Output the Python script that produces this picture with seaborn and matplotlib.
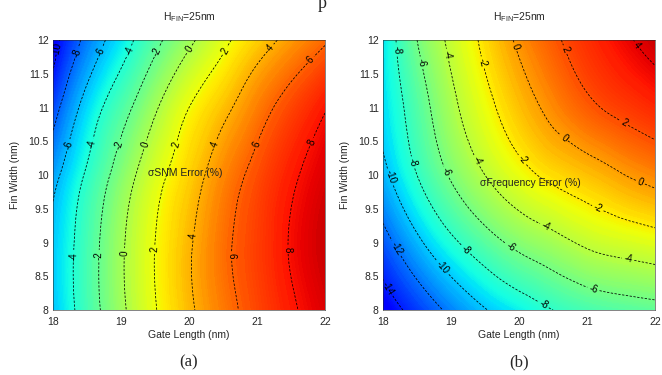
import numpy as np
import matplotlib
matplotlib.use("Agg")
import matplotlib.pyplot as plt
import matplotlib.tri as mtri
from matplotlib.colors import ListedColormap
import seaborn as sns

# values (rows = fin width, columns = gate length)
gate_length = [18, 18.5, 19, 19.5, 20, 20.5, 21, 21.5, 22]
fin_width = [8, 9, 10, 11, 12]

snm_error = [
    [-5.7, -3.05, -0.4, 1.9, 3.7, 5.35, 6.7, 7.8, 8.7],
    [-5.6, -3.0, -0.3, 2.0, 3.8, 5.6, 6.9, 8.1, 9.0],
    [-6.6, -3.75, -1.15, 1.35, 3.15, 5.0, 6.5, 7.75, 8.7],
    [-8.8, -5.25, -2.75, -0.25, 2.0, 3.55, 5.25, 6.7, 7.9],
    [-10.7, -7.45, -4.9, -2.5, -0.4, 1.6, 3.15, 4.55, 5.8],
]
freq_error = [
    [-15.0, -13.3, -11.6, -10.1, -9.05, -8.0, -7.3, -6.9, -6.6],
    [-12.7, -10.4, -8.4, -6.8, -5.5, -4.6, -3.7, -3.2, -2.8],
    [-10.5, -8.0, -5.8, -4.0, -2.6, -1.6, -0.9, -0.1, 0.6],
    [-9.5, -7.0, -4.5, -2.55, -0.9, 0.5, 1.65, 2.4, 3.0],
    [-9.3, -6.0, -3.6, -1.6, 0.3, 1.7, 2.8, 3.7, 4.5],
]
snm_levels = [-10, -8, -6, -4, -2, 0, 2, 4, 6, 8]
freq_levels = [-14, -12, -10, -8, -6, -4, -2, 0, 2, 4]
panel_text = ["\u03c3SNM Error (%)", "\u03c3Frequency Error (%)"]
sub_labels = ["(a)", "(b)"]

sns.set_style("white")
plt.rcParams["font.family"] = ["Liberation Sans", "DejaVu Sans"]
plt.rcParams["font.size"] = 7.5

cmap = ListedColormap(plt.get_cmap("jet")(np.linspace(0.11, 0.93, 256)))

# where the contour labels sit in the reference
snm_label_pos = [(18.1, 11.85), (18.4, 11.8), (18.75, 11.8), (19.2, 11.8), (19.6, 11.8),
                 (20.1, 11.8), (20.6, 11.8), (21.3, 11.8), (21.9, 11.6),
                 (18.2, 10.45), (18.6, 10.45), (18.95, 10.45), (19.35, 10.45),
                 (19.8, 10.45), (20.4, 10.45), (21.0, 10.45), (21.9, 10.45),
                 (18.3, 8.8), (18.7, 8.8), (19.05, 8.85), (19.5, 8.9),
                 (20.05, 9.1), (20.6, 8.8), (21.4, 8.9)]
freq_label_pos = [(18.22, 11.85), (18.54, 11.66), (18.94, 11.78), (19.43, 11.66),
                  (19.94, 11.9), (20.65, 11.85), (21.66, 11.87),
                  (21.5, 10.7), (20.6, 10.47), (19.99, 10.18), (19.35, 10.2),
                  (18.94, 10.05), (18.41, 10.18), (18.1, 9.97), (21.78, 9.88),
                  (21.1, 9.38), (20.34, 9.14), (21.6, 8.74), (19.84, 8.89),
                  (19.18, 8.86), (18.87, 8.62), (18.2, 8.92), (18.1, 8.34),
                  (21.1, 8.34), (20.35, 8.07)]
text_pos = [(19.94, 10.03), (20.16, 9.88)]

fig = plt.figure(figsize=(6.62, 3.75), dpi=100)
axes = [fig.add_axes([0.080, 0.173, 0.411, 0.72]),
        fig.add_axes([0.5786, 0.173, 0.411, 0.72])]

L, W = np.meshgrid(gate_length, fin_width)
tri = mtri.Triangulation(L.ravel(), W.ravel())
refiner = mtri.UniformTriRefiner(tri)

for ax, z, levels, lpos, txt, tpos, sub in zip(
        axes, [snm_error, freq_error], [snm_levels, freq_levels],
        [snm_label_pos, freq_label_pos], panel_text, text_pos, sub_labels):
    z = np.asarray(z, dtype=float).ravel()
    interp = mtri.CubicTriInterpolator(tri, z)
    tri_f, z_f = refiner.refine_field(z, triinterpolator=interp, subdiv=4)
    ax.tricontourf(tri_f, z_f, levels=200, cmap=cmap)
    cs = ax.tricontour(tri_f, z_f, levels=levels, colors="k",
                       linewidths=0.55, linestyles=[(0, (3, 2))])
    ax.clabel(cs, fmt="%d", fontsize=7, inline=True, inline_spacing=2,
              manual=lpos)
    ax.text(tpos[0], tpos[1], txt, ha="center", va="center",
            fontsize=7.5, color="#222222")
    ax.set_xlim(18, 22)
    ax.set_ylim(8, 12)
    ax.set_xticks([18, 19, 20, 21, 22])
    ax.set_yticks([8, 8.5, 9, 9.5, 10, 10.5, 11, 11.5, 12])
    ax.set_yticklabels(["8", "8.5", "9", "9.5", "10", "10.5", "11", "11.5", "12"])
    ax.tick_params(direction="in", length=2, width=0.5, labelsize=7.5)
    ax.tick_params(axis="x", pad=5)
    ax.tick_params(axis="y", pad=3)
    for s in ax.spines.values():
        s.set_linewidth(0.4)
    ax.set_xlabel("Gate Length (nm)", fontsize=7.5, labelpad=2)
    ax.set_ylabel("Fin Width (nm)", fontsize=7.5, labelpad=6)
    ax.set_title("H$_{\\mathregular{FIN}}$=25nm", fontsize=7.5, pad=14)
    ax.text(0.5, -0.193, sub, transform=ax.transAxes, ha="center", va="center",
            fontsize=12, family="Liberation Serif")

fig.text(0.487, 0.99, "p", ha="center", va="center", fontsize=13,
         family="Liberation Serif")

fig.savefig("out.png", dpi=100)
